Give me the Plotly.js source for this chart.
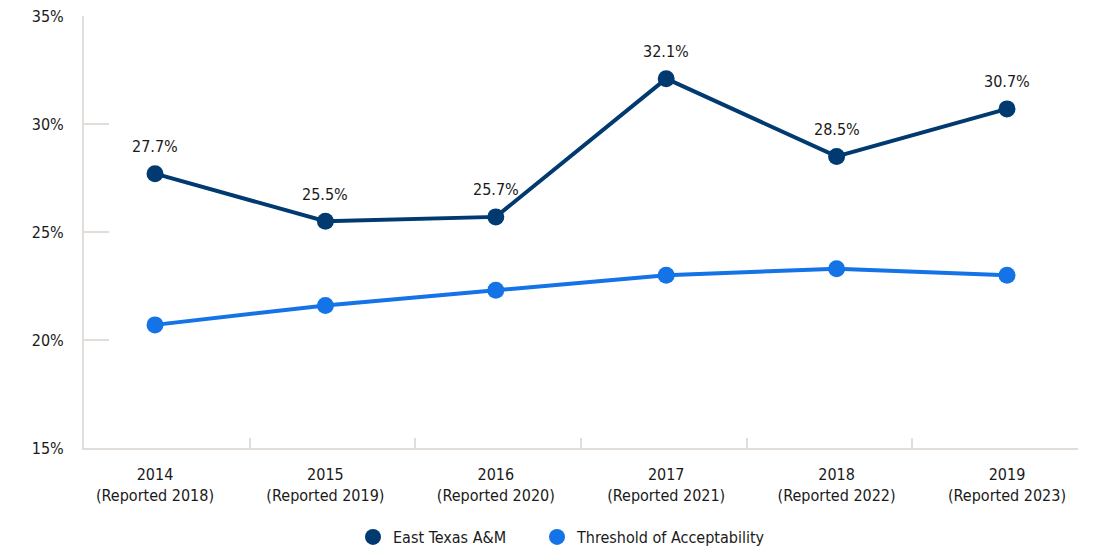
<!DOCTYPE html>
<html>
<head>
<meta charset="utf-8">
<script src="https://cdn.plot.ly/plotly-3.0.1.min.js"></script>
<style>
  html, body { margin: 0; padding: 0; background: #fff; }
  #chart { width: 1112px; height: 556px; }
</style>
</head>
<body>
<div id="chart"></div>
<script>
// ---- data ----
const cohortYears = ["2014", "2015", "2016", "2017", "2018", "2019"];
const reportedYears = ["2018", "2019", "2020", "2021", "2022", "2023"];
const eastTexas = [27.7, 25.5, 25.7, 32.1, 28.5, 30.7];
const threshold = [20.7, 21.6, 22.3, 23.0, 23.3, 23.0];
const yTicks = [15, 20, 25, 30, 35];
const seriesNames = ["East Texas A&M", "Threshold of Acceptability"];

// ---- styles ----
const FONT = "'DejaVu Sans Condensed', 'Liberation Sans Narrow', Roboto, sans-serif";
const FS = 16;
const NAVY = "#003a70";
const BLUE = "#1473e6";
const AXIS = "#e2ddd8";
const TEXT = "#1a1a1a";

const idx = cohortYears.map((_, i) => i);
const labels = cohortYears.map((y, i) => y + "<br>(Reported " + reportedYears[i] + ")");
const xRange = [-0.4167, 5.4167];
const nBins = cohortYears.length;
const binW = (xRange[1] - xRange[0]) / nBins;
const boundaries = [];
for (let k = 0; k <= nBins; k++) boundaries.push(xRange[0] + k * binW);

const traces = [
  {
    x: idx, y: eastTexas, mode: "lines+markers", name: seriesNames[0],
    line: { color: NAVY, width: 4 }, marker: { color: NAVY, size: 17 },
    showlegend: false, hoverinfo: "skip"
  },
  {
    x: idx, y: threshold, mode: "lines+markers", name: seriesNames[1],
    line: { color: BLUE, width: 4 }, marker: { color: BLUE, size: 17 },
    showlegend: false, hoverinfo: "skip"
  },
  {
    x: [null], y: [null], mode: "markers", name: seriesNames[0],
    marker: { color: NAVY, size: 17 }, showlegend: true, legend: "legend"
  },
  {
    x: [null], y: [null], mode: "markers", name: seriesNames[1],
    marker: { color: BLUE, size: 17 }, showlegend: true, legend: "legend2"
  },
  {
    x: [null], y: [null], xaxis: "x2", yaxis: "y", mode: "markers",
    showlegend: false, hoverinfo: "skip"
  }
];

const annotations = eastTexas.map((v, i) => ({
  x: idx[i], y: v, xref: "x", yref: "y",
  text: v.toFixed(1) + "%", showarrow: false, yshift: 27,
  font: { family: FONT, size: FS, color: TEXT }
}));

const legendBase = {
  orientation: "h", yref: "container", y: 19 / 556, yanchor: "middle",
  xref: "container", xanchor: "left",
  font: { family: FONT, size: FS, color: TEXT },
  itemclick: false, itemdoubleclick: false
};

const layout = {
  width: 1112, height: 556,
  margin: { l: 84, r: 34, t: 16, b: 108, autoexpand: false },
  paper_bgcolor: "#fff", plot_bgcolor: "#fff",
  font: { family: FONT, size: FS, color: TEXT },
  showlegend: true,
  legend: Object.assign({}, legendBase, { x: 353 / 1112 }),
  legend2: Object.assign({}, legendBase, { x: 537 / 1112 }),
  xaxis: {
    range: xRange, tickmode: "array", tickvals: idx, ticktext: labels,
    ticks: "", showgrid: false, zeroline: false,
    showline: true, linecolor: AXIS, linewidth: 2,
    ticklabelstandoff: 11,
    tickfont: { family: FONT, size: FS, color: TEXT },
    fixedrange: true
  },
  xaxis2: {
    overlaying: "x", side: "bottom", range: xRange,
    tickmode: "array", tickvals: boundaries, ticktext: boundaries.map(() => ""),
    ticks: "inside", ticklen: 10, tickwidth: 2, tickcolor: AXIS,
    showgrid: false, zeroline: false, showline: false, fixedrange: true
  },
  yaxis: {
    range: [15, 35], tickmode: "array", tickvals: yTicks,
    ticktext: yTicks.map(v => v + "%"),
    ticks: "inside", ticklen: 25, tickwidth: 2, tickcolor: AXIS,
    showgrid: false, zeroline: false,
    showline: true, linecolor: AXIS, linewidth: 2,
    ticklabelstandoff: 15,
    tickfont: { family: FONT, size: FS, color: TEXT },
    fixedrange: true
  },
  annotations: annotations
};

Plotly.newPlot("chart", traces, layout, { displayModeBar: false, staticPlot: true });
</script>
</body>
</html>
